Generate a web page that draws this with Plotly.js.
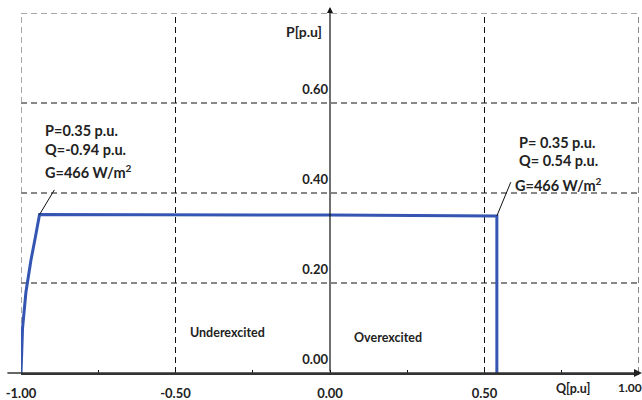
<!DOCTYPE html>
<html><head><meta charset="utf-8">
<script src="https://cdn.plot.ly/plotly-3.0.1.min.js"></script>
<style>html,body{margin:0;padding:0;background:#fff}</style>
</head><body><div id="chart" style="width:642px;height:400px"></div>
<script>
// Data
const curveQ = [-1.00, -0.995, -0.984, -0.968, -0.954, -0.94, 0.00, 0.54, 0.54];
const curveP = [0.00, 0.10, 0.18, 0.25, 0.30, 0.352, 0.351, 0.349, 0.00];
const xTickVals = [-1, -0.5, 0, 0.5];
const xTickText = ['-1.00', '-0.50', '0.00', '0.50'];
const yTickVals = [0, 0.2, 0.4, 0.6];
const yTickText = ['0.00', '0.20', '0.40', '0.60'];
const gridX = [-0.5, 0.5, 1.0];
const gridY = [0.2, 0.4, 0.6];
const edgeX = [-1.0];
const edgeY = [0.8];
const leftLabel = ['P=0.35 p.u.', 'Q=-0.94 p.u.', 'G=466 W/m<sup>2</sup>'];
const rightLabel = ['P= 0.35 p.u.', 'Q= 0.54 p.u.', 'G=466 W/m<sup>2</sup>'];
const leftPoint = [-0.94, 0.352];
const rightPoint = [0.54, 0.349];

const FONT = 'Lato, "Open Sans", sans-serif';
const dashStyle = '6px,4px';

const shapes = [];
gridX.forEach(v => shapes.push({type:'line', xref:'x', yref:'y', x0:v, x1:v, y0:0, y1:0.8,
  line:{color:'#111', width:1, dash:dashStyle}, layer:'below'}));
gridY.forEach(v => shapes.push({type:'line', xref:'x', yref:'y', x0:-1, x1:1, y0:v, y1:v,
  line:{color:'#111', width:1, dash:dashStyle}, layer:'below'}));
edgeX.forEach(v => shapes.push({type:'line', xref:'x', yref:'y', x0:v, x1:v, y0:0, y1:0.8,
  line:{color:'#8a8a8a', width:1.5, dash:dashStyle}, layer:'below'}));
edgeY.forEach(v => shapes.push({type:'line', xref:'x', yref:'y', x0:-1, x1:1, y0:v, y1:v,
  line:{color:'#8a8a8a', width:1.5, dash:dashStyle}, layer:'below'}));
// x axis extensions (paper-referenced, not clipped)
shapes.push({type:'line', xref:'paper', yref:'paper', x0:-0.022, x1:1.0, y0:0, y1:0,
  line:{color:'#333', width:1.5}});
shapes.push({type:'path', xref:'paper', yref:'paper', xsizemode:'pixel', ysizemode:'pixel',
  xanchor:1.0, yanchor:0, path:'M -5,-4 L -5,4 L 3,0 Z', fillcolor:'#222', line:{width:0}});
// pointer lines
shapes.push({type:'line', xref:'x', yref:'y', x0:leftPoint[0], y0:leftPoint[1],
  x1:leftPoint[0]+0.048, y1:leftPoint[1]+0.055, line:{color:'#111', width:1}});
shapes.push({type:'line', xref:'x', yref:'y', x0:rightPoint[0], y0:rightPoint[1],
  x1:rightPoint[0]+0.045, y1:rightPoint[1]+0.075, line:{color:'#111', width:1}});

const annotations = [];
// y axis with arrow
annotations.push({xref:'x', yref:'paper', x:0, y:1.017, axref:'pixel', ayref:'pixel', ax:0, ay:366,
  text:'', showarrow:true, arrowhead:2, arrowsize:1, arrowwidth:1.2, arrowcolor:'#111'});
const tf = (s) => ({family:FONT, size:s, color:'#222', weight:'bold'});
const leftY = [0.538, 0.496, 0.448];
leftLabel.forEach((t,i) => annotations.push({xref:'x', yref:'y', x:-0.93, y:leftY[i], xanchor:'left',
  yanchor:'middle', text:t, showarrow:false, font:tf(14.5)}));
const rightY = [0.513, 0.473, 0.42];
const rightX = [0.605, 0.605, 0.593];
rightLabel.forEach((t,i) => annotations.push({xref:'x', yref:'y', x:rightX[i], y:rightY[i], xanchor:'left',
  yanchor:'middle', text:t, showarrow:false, font:tf(14.5)}));
annotations.push({xref:'x', yref:'y', x:-0.333, y:0.089, text:'Underexcited', showarrow:false, font:tf(12.5)});
annotations.push({xref:'x', yref:'y', x:0.188, y:0.08, text:'Overexcited', showarrow:false, font:tf(12.5)});
annotations.push({xref:'x', yref:'y', x:0, y:0.758, xanchor:'right', xshift:-6, text:'P[p.u]', showarrow:false, font:tf(14)});
annotations.push({xref:'x', yref:'paper', x:0.786, y:-0.043, yanchor:'middle', text:'Q[p.u]', showarrow:false, font:tf(12.5)});
annotations.push({xref:'x', yref:'paper', x:0.971, y:-0.04, yanchor:'middle', text:'1.00', showarrow:false, font:tf(12)});

const data = [{x:curveQ, y:curveP, type:'scatter', mode:'lines',
  line:{color:'rgb(52,86,178)', width:3}, hoverinfo:'skip', cliponaxis:false}];

const layout = {
  width:642, height:400,
  margin:{l:21, r:3, t:13, b:27},
  paper_bgcolor:'#fff', plot_bgcolor:'#fff',
  showlegend:false,
  xaxis:{range:[-1,1], tickmode:'array', tickvals:xTickVals, ticktext:xTickText,
    showgrid:false, zeroline:false, showline:true, linecolor:'#333', linewidth:1.5,
    ticks:'inside', ticklen:3, tickcolor:'#111',
    minor:{dtick:0.25, tick0:-1, ticks:'inside', ticklen:3, tickcolor:'#111', showgrid:false},
    tickfont:tf(13), ticklabelstandoff:8},
  yaxis:{range:[0,0.8], anchor:'free', position:0.5, tickmode:'array', tickvals:yTickVals, ticktext:yTickText,
    showgrid:false, zeroline:false, showline:false, ticks:'',
    tickfont:tf(13), ticklabelshift:-14, ticklabelstandoff:2},
  shapes:shapes, annotations:annotations
};
Plotly.newPlot('chart', data, layout, {displayModeBar:false, staticPlot:true});
</script></body></html>
